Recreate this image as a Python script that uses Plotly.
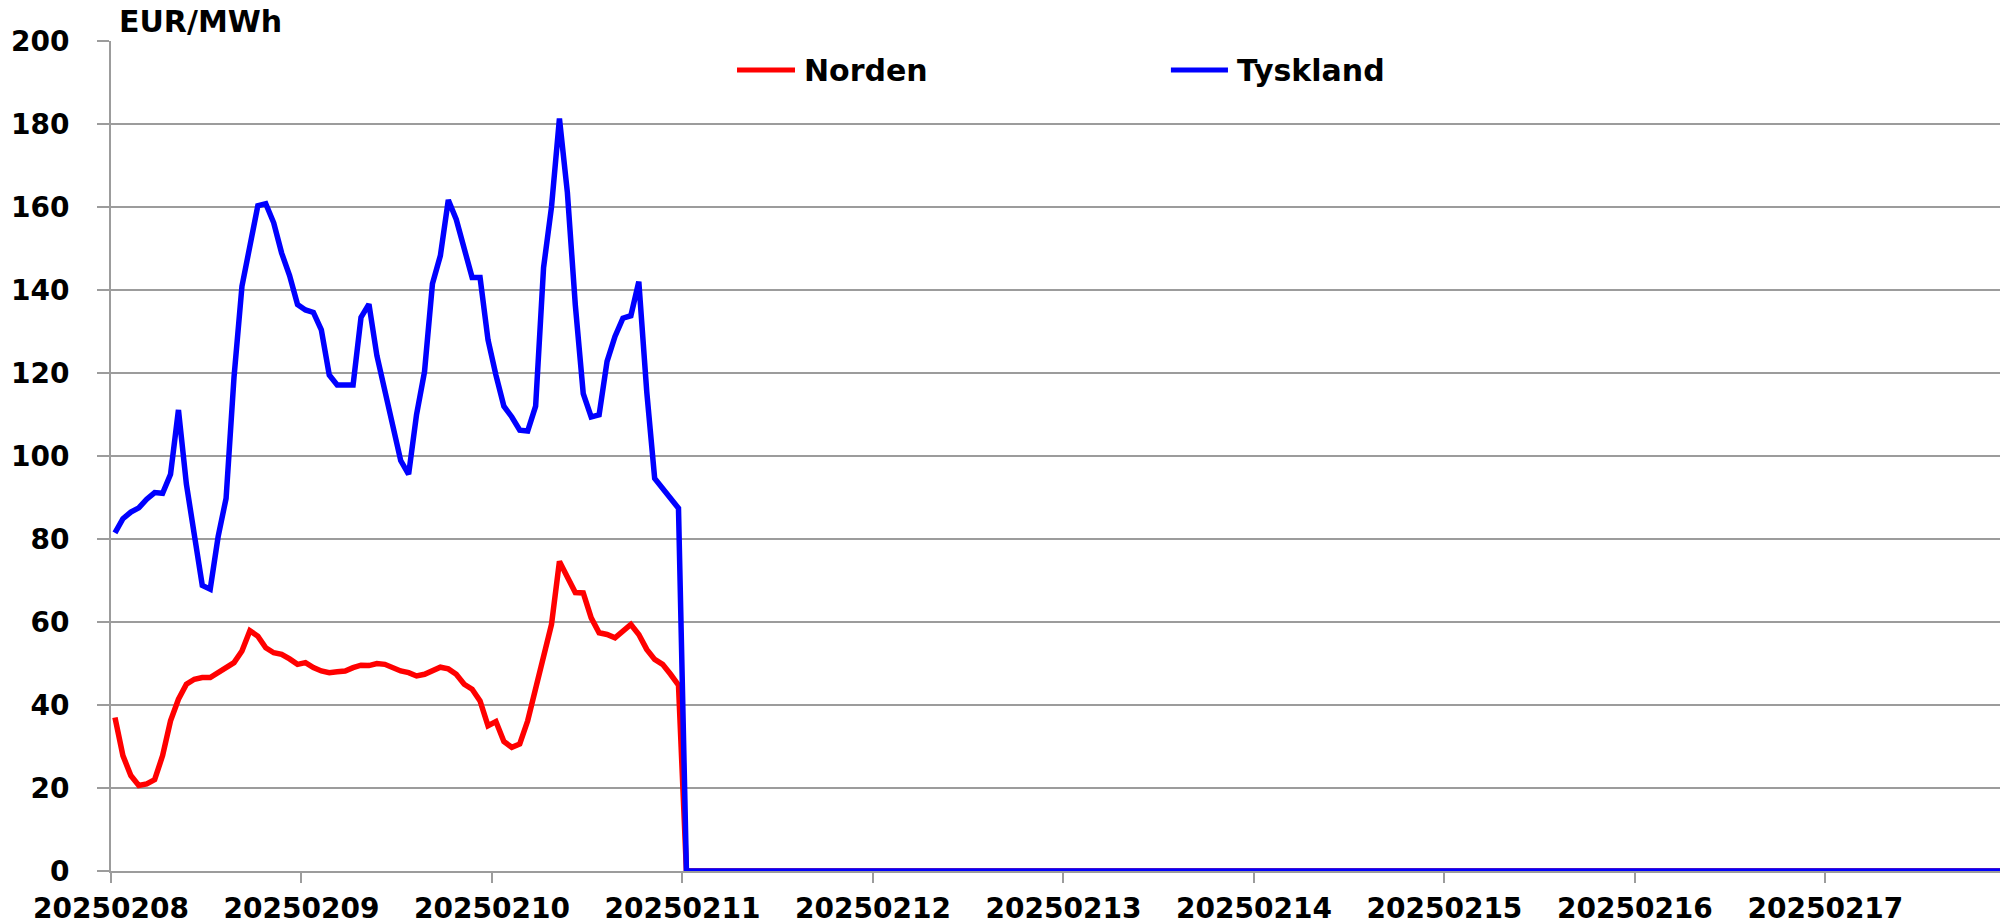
import plotly.graph_objects as go

# ---- data (hourly prices, EUR/MWh) ----
days = ["20250208", "20250209", "20250210", "20250211", "20250212",
        "20250213", "20250214", "20250215", "20250216", "20250217"]

norden_obs = [37.0, 27.8, 23.0, 20.6, 21.0, 22.0, 27.8, 36.2, 41.4, 45.0, 46.2, 46.6,
              46.6, 47.9, 49.0, 50.2, 53.0, 57.9, 56.6, 53.8, 52.6, 52.2, 51.1, 49.8,
              50.2, 49.0, 48.2, 47.8, 48.0, 48.2, 49.0, 49.6, 49.5, 50.0, 49.8, 49.0,
              48.2, 47.8, 47.0, 47.4, 48.4, 49.1, 48.7, 47.4, 45.0, 43.8, 41.0, 35.0,
              36.0, 31.2, 29.8, 30.6, 36.2, 44.2, 51.8, 59.4, 74.6, 70.6, 67.1, 67.0,
              61.0, 57.4, 57.0, 56.2, 57.8, 59.4, 57.0, 53.4, 51.0, 49.8, 47.4, 44.8]

tyskland_obs = [81.5, 84.9, 86.5, 87.5, 89.6, 91.2, 91.0, 95.6, 111.1, 93.2, 81.0, 68.8,
                67.9, 80.6, 89.8, 119.0, 140.9, 150.0, 160.3, 160.8, 156.2, 148.9, 143.5, 136.5,
                135.2, 134.6, 130.4, 119.5, 117.1, 117.1, 117.1, 133.4, 136.6, 124.2, 115.5, 106.8,
                98.9, 95.6, 110.0, 120.3, 141.5, 148.3, 161.7, 157.0, 150.3, 143.0, 143.0, 128.0,
                119.5, 112.0, 109.4, 106.2, 106.0, 112.0, 145.4, 160.0, 181.3, 163.5, 136.4, 115.0,
                109.4, 109.9, 122.8, 128.8, 133.2, 133.8, 142.0, 115.5, 94.6, 92.2, 89.4, 87.4]

HOURS_PER_DAY = 24
n_total = len(days) * HOURS_PER_DAY
# remaining hours of the period are reported as 0
norden = norden_obs + [0.0] * (n_total - len(norden_obs))
tyskland = tyskland_obs + [0.0] * (n_total - len(tyskland_obs))
hours = list(range(n_total))

# ---- styling ----
FONT = "DejaVu Sans"
GRID = "#9c9c9c"
TXT = dict(family=FONT, size=28, color="black", weight="bold")
BIG = dict(family=FONT, size=30, color="black", weight="bold")

fig = go.Figure()
fig.add_trace(go.Scatter(x=hours, y=norden, mode="lines", name="Norden",
                         line=dict(color="#ff0000", width=5.5)))
fig.add_trace(go.Scatter(x=hours, y=tyskland, mode="lines", name="Tyskland",
                         line=dict(color="#0000ff", width=5.5)))

tickvals = [d * HOURS_PER_DAY - 0.5 for d in range(len(days))]

fig.update_layout(
    width=2000, height=924,
    margin=dict(l=111, r=0, t=41, b=53, autoexpand=False),
    paper_bgcolor="white", plot_bgcolor="white",
    showlegend=False,
    font=dict(family=FONT),
    xaxis=dict(range=[-0.5, 237.5], tickmode="array", tickvals=tickvals, ticktext=days,
               showgrid=False, zeroline=False, showline=True, linecolor=GRID, linewidth=2,
               ticks="outside", ticklen=10, tickwidth=2, tickcolor=GRID,
               tickfont=TXT, automargin=False, ticklabelstandoff=1),
    yaxis=dict(range=[0, 200], dtick=20, showgrid=True, gridcolor=GRID, gridwidth=1.5,
               zeroline=False, showline=True, linecolor=GRID, linewidth=2,
               ticks="outside", ticklen=12, tickwidth=2, tickcolor=GRID,
               tickfont=TXT, ticklabelstandoff=22, automargin=False),
)

# axis unit title
fig.add_annotation(text="EUR/MWh", xref="paper", yref="paper", x=0.003, y=1.023,
                   xanchor="left", yanchor="middle", showarrow=False, font=BIG)

# legend drawn manually to match the reference layout
legend_items = [("Norden", "#ff0000", 0.3314, 0.3621),
                ("Tyskland", "#0000ff", 0.5611, 0.5913)]
for name, color, x0, x1 in legend_items:
    fig.add_shape(type="line", xref="paper", yref="paper", x0=x0, x1=x1,
                  y0=0.965, y1=0.965, line=dict(color=color, width=5))
    fig.add_annotation(text=name, xref="paper", yref="paper", x=x1 + 0.0035, y=0.965,
                       xanchor="left", yanchor="middle", showarrow=False, font=BIG)

fig.write_html(
    "out.html",
    config={"displayModeBar": False},
    post_script="document.documentElement.style.margin='0';"
                "document.body.style.margin='0';"
                "document.body.style.overflow='hidden';",
)
